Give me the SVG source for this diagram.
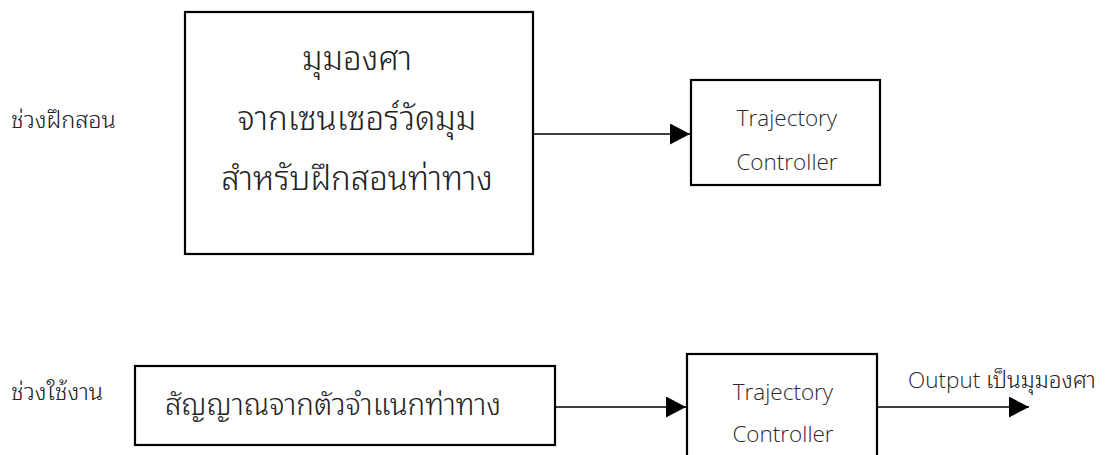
<svg xmlns="http://www.w3.org/2000/svg" width="1116" height="455" viewBox="0 0 1116 455">
<style>
.box{fill:#fff;stroke:#000;stroke-width:2.2}
.th{font-family:"Noto Sans Thai Looped","Noto Sans Thai","TH Sarabun New","Sarabun","Loma","Garuda","Noto Sans","DejaVu Sans",sans-serif;fill:#222;font-weight:300}
.en{font-family:"Open Sans","Noto Sans","Liberation Sans",sans-serif;fill:#2a2a2a;font-weight:300}
.big{font-size:33px;text-anchor:middle}
.lbl{font-size:23.5px}
.mid{text-anchor:middle}
.conn{stroke:#000;stroke-width:1.6;fill:none}
</style>
<defs>
<marker id="ah" viewBox="0 0 20 21" refX="20" refY="10.5" markerWidth="20" markerHeight="21" markerUnits="userSpaceOnUse" orient="auto">
<path d="M0,0 L20,10.5 L0,21 Z" fill="#000"/>
</marker>
</defs>
<text class="th lbl" x="11" y="128">ช่วงฝึกสอน</text>
<text class="th lbl" x="11" y="400">ช่วงใช้งาน</text>
<g id="sensor">
<rect class="box" x="185" y="12" width="348" height="242"/>
<text class="th big" x="357" y="70">มุมองศา</text>
<text class="th big" x="357" y="130">จากเซนเซอร์วัดมุม</text>
<text class="th big" x="357" y="190">สำหรับฝึกสอนท่าทาง</text>
</g>
<g id="ctrl1">
<rect class="box" x="691" y="80" width="189" height="105"/>
<text class="en mid" font-size="22.5" x="787" y="126">Trajectory</text>
<text class="en mid" font-size="22.5" x="787" y="170">Controller</text>
</g>
<g id="classifier">
<rect class="box" x="135" y="366" width="420" height="79"/>
<text class="th" font-size="29.5" text-anchor="middle" x="333" y="415">สัญญาณจากตัวจำแนกท่าทาง</text>
</g>
<g id="ctrl2">
<rect class="box" x="687" y="354" width="190" height="110"/>
<text class="en mid" font-size="22.5" x="783" y="400">Trajectory</text>
<text class="en mid" font-size="22.5" x="783" y="442">Controller</text>
</g>
<g id="output">
<text class="en" font-size="22.5" x="908" y="388">Output <tspan class="th">เป็นมุมองศา</tspan></text>
</g>
<g id="connectors">
<line class="conn" x1="534" y1="134" x2="690" y2="134" marker-end="url(#ah)"/>
<line class="conn" x1="556" y1="407" x2="686" y2="407" marker-end="url(#ah)"/>
<line class="conn" x1="878" y1="407" x2="1029" y2="407" marker-end="url(#ah)"/>
</g>
</svg>
